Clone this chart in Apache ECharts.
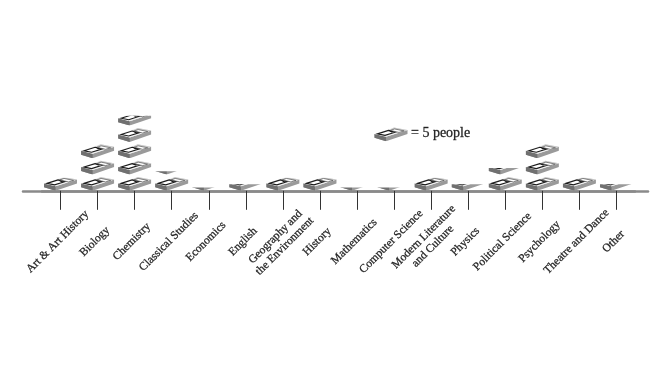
<!DOCTYPE html>
<html><head><meta charset="utf-8">
<style>html,body{margin:0;padding:0;background:#fff}#c{width:660px;height:368px}</style>
<script src="https://cdn.jsdelivr.net/npm/echarts@6/dist/echarts.min.js"></script>
</head><body><div id="c"></div>
<script>
const categories = ['Art & Art History','Biology','Chemistry','Classical Studies','Economics','English','Geography and\nthe Environment','History','Mathematics','Computer Science','Modern Literature\nand Culture','Physics','Political Science','Psychology','Theatre and Dance','Other'];
const people = [4,15,23,6,1,2,4,4,1,1,4,2,7,15,4,2];
const peoplePerIcon = 5;
const axisMax = 30;

const svg = `<svg xmlns="http://www.w3.org/2000/svg" width="68" height="33" viewBox="0 -3 68 33">
<defs><filter id="b" x="-5%" y="-5%" width="110%" height="110%"><feGaussianBlur stdDeviation="1"/></filter></defs>
<g filter="url(#b)">
<polygon points="1,15 1,23 24,30 67,15 67,7 24,21" fill="#9a9a9a"/>
<polygon points="1,23 24,30 24,21 1,15" fill="#707070"/>
<polygon points="1,15 40,2 67,7 24,21" fill="#efefef"/>
<polygon points="40,2 67,7 52,13 30,7" fill="#c8c8c8"/>
<polygon points="7,15 29,8 44,11 22,18" fill="#fff" stroke="#1a1a1a" stroke-width="2.2"/>
<polygon points="30,9 40,7 44,10 35,12" fill="#111"/>
<polygon points="41,5 60,9 50,12 33,8" fill="#fff" stroke="#555" stroke-width="1.4"/>
</g></svg>`;
const icon = 'data:image/svg+xml;charset=utf-8,' + encodeURIComponent(svg);

const chart = echarts.init(document.getElementById('c'));
chart.setOption({
  animation:false,
  backgroundColor:'#fff',
  grid:[
    {left:42,right:25,top:93,bottom:177.2},
    {left:23,right:12,top:93,bottom:177.2}
  ],
  xAxis:[
    {type:'category',gridIndex:0,data:categories,
     axisLine:{show:true,lineStyle:{color:'#8a8a8a',width:2.5}},
     axisTick:{show:true,alignWithLabel:true,length:19,lineStyle:{color:'#333',width:1}},
     axisLabel:{show:true,interval:0,rotate:45,margin:48,align:'center',verticalAlign:'middle',hideOverlap:false,
       fontFamily:'"Liberation Serif",serif',fontSize:11.5,color:'#222',lineHeight:13,padding:[0,8,8,0],
       textBorderColor:'#444',textBorderWidth:0.3}},
    {type:'category',gridIndex:1,data:[''],
     axisLine:{show:true,lineStyle:{color:'#8a8a8a',width:2.5}},
     axisTick:{show:false},axisLabel:{show:false}}
  ],
  yAxis:[
    {type:'value',gridIndex:0,min:0,max:axisMax,show:false},
    {type:'value',gridIndex:1,min:0,max:axisMax,show:false}
  ],
  series:[{
    type:'pictorialBar',xAxisIndex:0,yAxisIndex:0,
    data:people,
    symbol:'image://'+icon,
    symbolSize:[34,16.3],
    symbolRepeat:axisMax/peoplePerIcon,
    symbolBoundingData:axisMax,
    symbolMargin:'0!',
    symbolClip:true,
    z:3
  }],
  graphic:[
    {type:'image',style:{image:icon,x:374,y:125,width:34,height:16.3}},
    {type:'text',style:{text:'= 5 people',x:411,y:133,verticalAlign:'middle',
      font:'14px "Liberation Serif",serif',fill:'#222',stroke:'#444',lineWidth:0.3}}
  ]
});
</script></body></html>
